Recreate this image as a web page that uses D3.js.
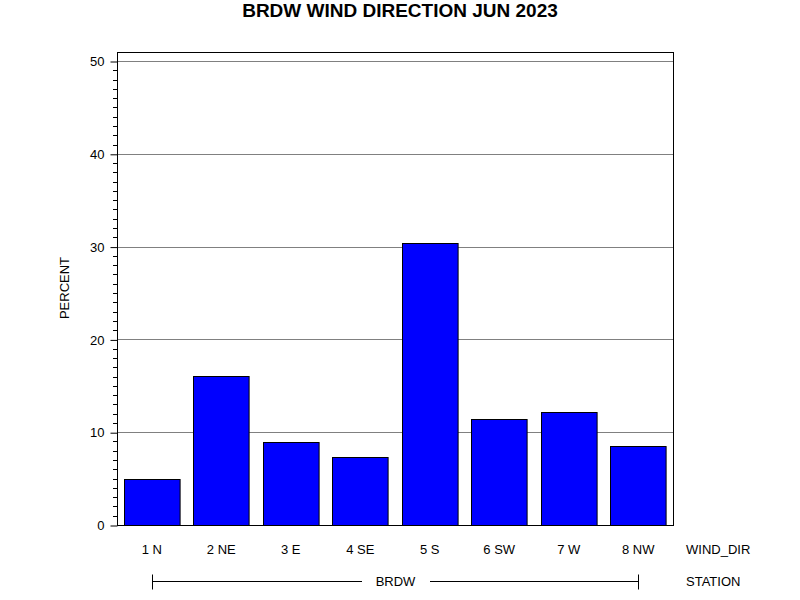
<!DOCTYPE html>
<html>
<head>
<meta charset="utf-8">
<script src="https://cdn.jsdelivr.net/npm/d3@7"></script>
<style>
  body { margin: 0; background: #fff; }
  text { font-family: "Liberation Sans", Arial, sans-serif; fill: #000; }
</style>
</head>
<body>
<svg id="chart" width="800" height="600"></svg>
<script>
// data
const categories = ["1 N", "2 NE", "3 E", "4 SE", "5 S", "6 SW", "7 W", "8 NW"];
const percents = [5.0, 16.1, 8.9, 7.3, 30.4, 11.4, 12.2, 8.5];
const majorTicks = [0, 10, 20, 30, 40, 50];
const minorTicks = d3.range(0, 51, 1);
const station = "BRDW";

//Layout of the plot area
const plot = { left: 117, right: 673, top: 52, bottom: 525 };

const svg = d3.select("#chart");

//Scales
const x = d3
  .scaleBand()
  .domain(categories)
  .range([plot.left, plot.right])
  .paddingInner(0.2)
  .paddingOuter(0.1);

const y = d3.scaleLinear().domain([0, 50]).range([plot.bottom, 61]);

//Title
svg
  .append("text")
  .attr("x", 400)
  .attr("y", 17)
  .attr("text-anchor", "middle")
  .style("font-weight", "bold")
  .style("font-size", "19px")
  .text("BRDW WIND DIRECTION JUN 2023");

//Grid lines at the major ticks
svg
  .append("g")
  .selectAll("line")
  .data(majorTicks.filter((d) => d > 0))
  .join("line")
  .attr("x1", plot.left)
  .attr("x2", plot.right)
  .attr("y1", (d) => Math.round(y(d)) + 0.5)
  .attr("y2", (d) => Math.round(y(d)) + 0.5)
  .attr("stroke", "#808080")
  .attr("stroke-width", 1);

//Bars
svg
  .append("g")
  .selectAll("rect")
  .data(percents)
  .join("rect")
  .attr("x", (d, i) => Math.round(x(categories[i])) + 0.5)
  .attr("y", (d) => Math.round(y(d)) + 0.5)
  .attr("width", x.bandwidth())
  .attr("height", (d) => Math.round(y(0)) - Math.round(y(d)))
  .attr("fill", "#0000ff")
  .attr("stroke", "#000")
  .attr("stroke-width", 1);

//Frame around the plot
svg
  .append("rect")
  .attr("x", plot.left + 0.5)
  .attr("y", plot.top + 0.5)
  .attr("width", plot.right - plot.left)
  .attr("height", plot.bottom - plot.top)
  .attr("fill", "none")
  .attr("stroke", "#000")
  .attr("stroke-width", 1);

//Y axis with major and minor ticks
const yAxis = svg
  .append("g")
  .attr("transform", "translate(" + (plot.left + 0.5) + ",0.5)")
  .call(d3.axisLeft(y).tickValues(majorTicks).tickSize(7).tickPadding(6).tickFormat(d3.format("d")));
yAxis.select(".domain").remove();
yAxis.selectAll("text").style("font-size", "13px").attr("font-family", null);
yAxis.selectAll("line").attr("y1", 0).attr("y2", 0);

svg
  .append("g")
  .selectAll("line")
  .data(minorTicks.filter((d) => d % 10 !== 0))
  .join("line")
  .attr("x1", plot.left - 4)
  .attr("x2", plot.left)
  .attr("y1", (d) => Math.round(y(d)) + 0.5)
  .attr("y2", (d) => Math.round(y(d)) + 0.5)
  .attr("stroke", "#000");

//Y axis label
svg
  .append("text")
  .attr("transform", "translate(69,288) rotate(-90)")
  .attr("text-anchor", "middle")
  .style("font-size", "13px")
  .text("PERCENT");

//Category labels
svg
  .append("g")
  .selectAll("text")
  .data(categories)
  .join("text")
  .attr("x", (d) => x(d) + x.bandwidth() / 2)
  .attr("y", 554)
  .attr("text-anchor", "middle")
  .style("font-size", "13px")
  .text((d) => d);

svg
  .append("text")
  .attr("x", 686)
  .attr("y", 554)
  .style("font-size", "13px")
  .text("WIND_DIR");

//Station bracket under the categories
const bx1 = Math.round(x(categories[0]) + x.bandwidth() / 2) + 0.5;
const bx2 = Math.round(x(categories[categories.length - 1]) + x.bandwidth() / 2) + 0.5;
const by = 581.5;
const bracket = svg.append("g").attr("stroke", "#000");
bracket.append("line").attr("x1", bx1).attr("x2", 362).attr("y1", by).attr("y2", by);
bracket.append("line").attr("x1", 430).attr("x2", bx2).attr("y1", by).attr("y2", by);
bracket.append("line").attr("x1", bx1).attr("x2", bx1).attr("y1", by - 7).attr("y2", by + 8);
bracket.append("line").attr("x1", bx2).attr("x2", bx2).attr("y1", by - 7).attr("y2", by + 8);

svg
  .append("text")
  .attr("x", (bx1 + bx2) / 2)
  .attr("y", 586)
  .attr("text-anchor", "middle")
  .style("font-size", "13px")
  .text(station);

svg
  .append("text")
  .attr("x", 686)
  .attr("y", 586)
  .style("font-size", "13px")
  .text("STATION");
</script>
</body>
</html>
